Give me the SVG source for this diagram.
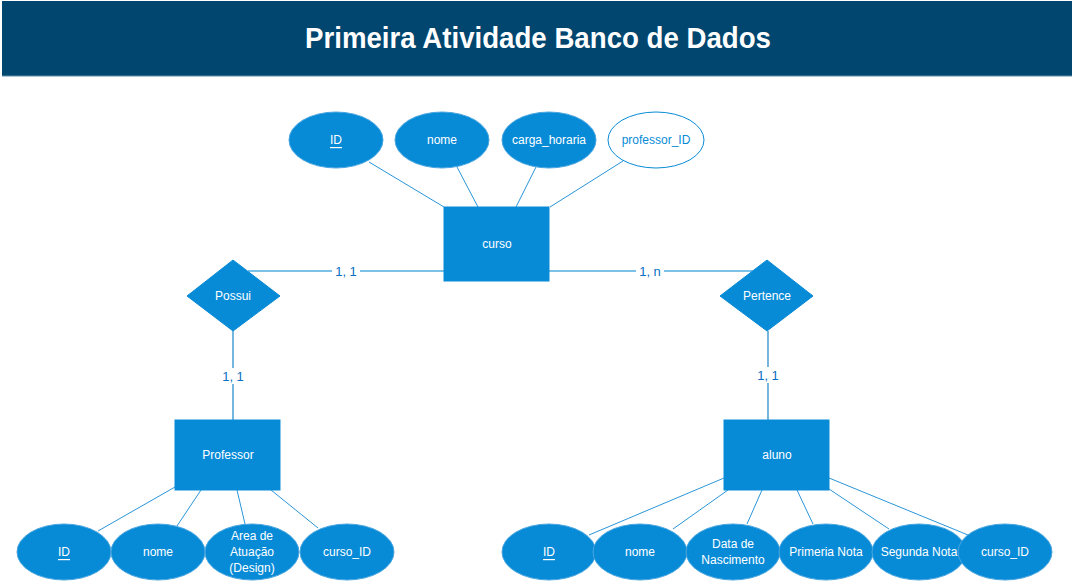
<svg xmlns="http://www.w3.org/2000/svg" width="1075" height="583" viewBox="0 0 1075 583">
<style>
.ent{fill:#088bd7;stroke:#088bd7;stroke-width:1}
.att{fill:#088bd7;stroke:#4aa6e0;stroke-width:1}
.attw{fill:#ffffff;stroke:#088bd7;stroke-width:1}
.rel{fill:#088bd7;stroke:#088bd7;stroke-width:1}
.t{font-family:"Liberation Sans",Arial,sans-serif;font-size:12px;fill:#ffffff;text-anchor:middle;dominant-baseline:central}
.tb{font-family:"Liberation Sans",Arial,sans-serif;font-size:12px;fill:#088bd7;text-anchor:middle;dominant-baseline:central}
.card{font-family:"Liberation Sans",Arial,sans-serif;font-size:13px;fill:#0a70c2;text-anchor:middle;dominant-baseline:central}
.ln{stroke:#2a95d8;stroke-width:1;fill:none}
.lh{stroke:#7cc1e8;stroke-width:2;fill:none}
.lv{stroke:#1a86cc;stroke-width:1.2;fill:none}
.u{text-decoration:underline}
</style>
<g id="header">
<rect x="2" y="1" width="1070" height="75" fill="#00466f"/>
<line x1="2" y1="76" x2="1072" y2="76" stroke="#5d8fae" stroke-width="1"/>
<text x="538" y="38" font-family="Liberation Sans,Arial,sans-serif" font-weight="bold" font-size="29" fill="#ffffff" text-anchor="middle" dominant-baseline="central" textLength="466" lengthAdjust="spacingAndGlyphs">Primeira Atividade Banco de Dados</text>
</g>
<g id="connectors">
<line class="ln" x1="369" y1="162" x2="444" y2="207"/>
<line class="ln" x1="457" y1="167" x2="478" y2="207"/>
<line class="ln" x1="536" y1="167" x2="516" y2="207"/>
<line class="ln" x1="623" y1="161" x2="550" y2="207"/>
<line class="lh" x1="248" y1="271" x2="444" y2="271"/>
<line class="lh" x1="549" y1="271" x2="753" y2="271"/>
<line class="lv" x1="233" y1="331" x2="233" y2="420"/>
<line class="lv" x1="768" y1="331" x2="768" y2="420"/>
<line class="ln" x1="175" y1="487" x2="98" y2="531"/>
<line class="ln" x1="201" y1="490" x2="177" y2="526"/>
<line class="ln" x1="237" y1="490" x2="245" y2="524"/>
<line class="ln" x1="271" y1="490" x2="318" y2="528"/>
<line class="ln" x1="724" y1="478" x2="589" y2="535"/>
<line class="ln" x1="728" y1="490" x2="673" y2="529"/>
<line class="ln" x1="762" y1="490" x2="747" y2="524"/>
<line class="ln" x1="797" y1="490" x2="813" y2="524"/>
<line class="ln" x1="829" y1="489" x2="889" y2="529"/>
<line class="ln" x1="829" y1="478" x2="968" y2="535"/>
<rect x="332" y="263" width="28" height="16" fill="#ffffff"/>
<text class="card" x="346" y="271">1, 1</text>
<rect x="636" y="263" width="28" height="16" fill="#ffffff"/>
<text class="card" x="650" y="271">1, n</text>
<rect x="219" y="368" width="28" height="16" fill="#ffffff"/>
<text class="card" x="233" y="376">1, 1</text>
<rect x="754" y="367" width="28" height="16" fill="#ffffff"/>
<text class="card" x="768" y="375">1, 1</text>
</g>
<g id="curso">
<rect class="ent" x="444" y="207" width="105" height="74"/>
<text class="t" x="497" y="244">curso</text>
</g>
<g id="curso_ID_attr">
<ellipse class="att" cx="336" cy="140" rx="47" ry="28"/>
<text class="t u" x="336" y="140">ID</text>
</g>
<g id="curso_nome">
<ellipse class="att" cx="442" cy="140" rx="47" ry="28"/>
<text class="t" x="442" y="140">nome</text>
</g>
<g id="curso_carga">
<ellipse class="att" cx="549" cy="140" rx="47" ry="28"/>
<text class="t" x="549" y="140">carga_horaria</text>
</g>
<g id="curso_professor_ID">
<ellipse class="attw" cx="656" cy="140" rx="48" ry="28"/>
<text class="tb" x="656" y="140">professor_ID</text>
</g>
<g id="possui">
<polygon class="rel" points="233,260 280,296 233,331 187,296"/>
<text class="t" x="233" y="296">Possui</text>
</g>
<g id="pertence">
<polygon class="rel" points="767,260 813,296 767,331 720,296"/>
<text class="t" x="767" y="296">Pertence</text>
</g>
<g id="professor">
<rect class="ent" x="175" y="420" width="105" height="70"/>
<text class="t" x="228" y="455">Professor</text>
</g>
<g id="aluno">
<rect class="ent" x="724" y="420" width="105" height="70"/>
<text class="t" x="777" y="455">aluno</text>
</g>
<g id="prof_ID">
<ellipse class="att" cx="64" cy="552" rx="47" ry="28"/>
<text class="t u" x="64" y="552">ID</text>
</g>
<g id="prof_nome">
<ellipse class="att" cx="158" cy="552" rx="47" ry="28"/>
<text class="t" x="158" y="552">nome</text>
</g>
<g id="prof_area">
<ellipse class="att" cx="252" cy="552" rx="47" ry="28"/>
<text class="t" x="252" y="536">Area de</text>
<text class="t" x="252" y="552">Atuação</text>
<text class="t" x="252" y="568">(Design)</text>
</g>
<g id="prof_curso_ID">
<ellipse class="att" cx="347" cy="552" rx="47" ry="28"/>
<text class="t" x="347" y="552">curso_ID</text>
</g>
<g id="aluno_ID">
<ellipse class="att" cx="549" cy="552" rx="47" ry="28"/>
<text class="t u" x="549" y="552">ID</text>
</g>
<g id="aluno_nome">
<ellipse class="att" cx="640" cy="552" rx="47" ry="28"/>
<text class="t" x="640" y="552">nome</text>
</g>
<g id="aluno_data">
<ellipse class="att" cx="733" cy="552" rx="47" ry="28"/>
<text class="t" x="733" y="544">Data de</text>
<text class="t" x="733" y="560">Nascimento</text>
</g>
<g id="aluno_nota1">
<ellipse class="att" cx="826" cy="552" rx="47" ry="28"/>
<text class="t" x="826" y="552">Primeria Nota</text>
</g>
<g id="aluno_nota2">
<ellipse class="att" cx="919" cy="552" rx="47" ry="28"/>
<text class="t" x="919" y="552">Segunda Nota</text>
</g>
<g id="aluno_curso_ID">
<ellipse class="att" cx="1005" cy="552" rx="47" ry="28"/>
<text class="t" x="1005" y="552">curso_ID</text>
</g>
</svg>
